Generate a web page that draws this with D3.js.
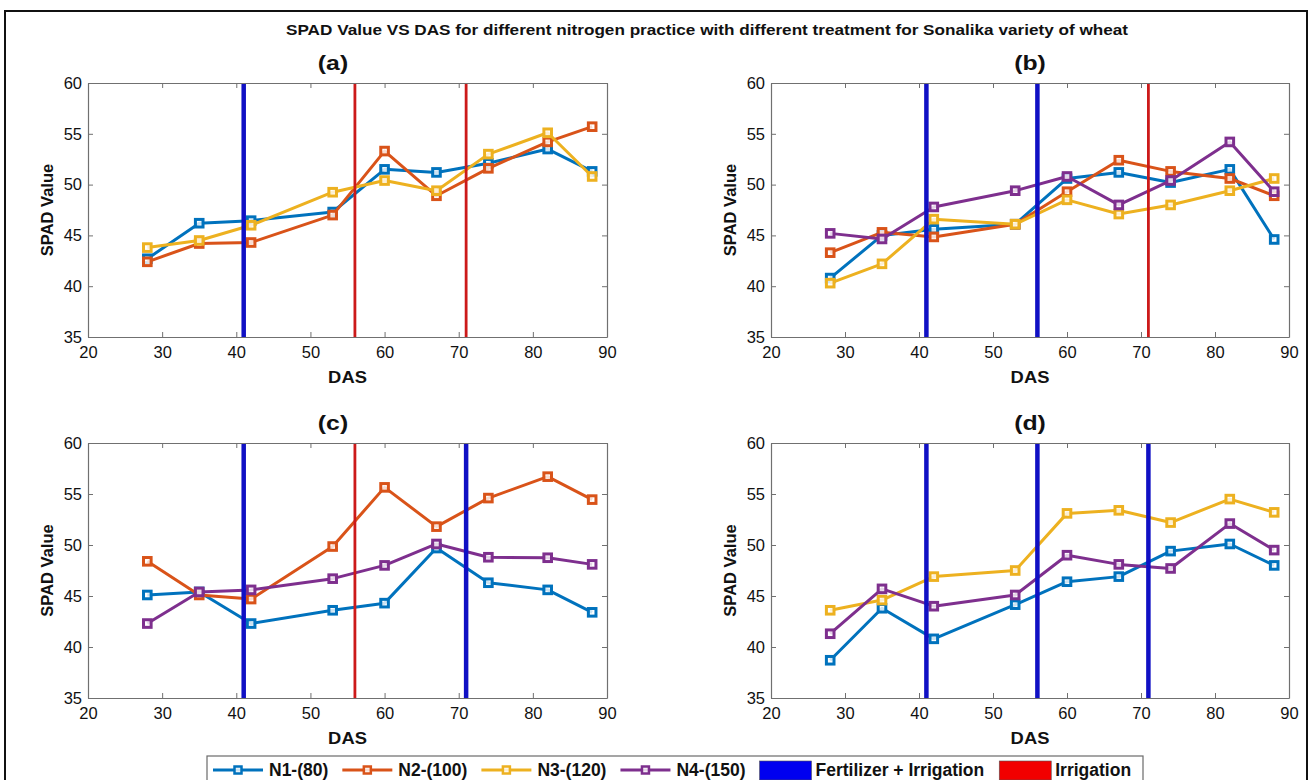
<!DOCTYPE html>
<html>
<head>
<meta charset="utf-8">
<script src="https://cdn.jsdelivr.net/npm/d3@7"></script>
<style>
  html, body { margin: 0; padding: 0; background: #fff; }
  svg { display: block; font-family: "Liberation Sans", Arial, Helvetica, sans-serif; }
</style>
</head>
<body>
<svg id="chart" width="1314" height="780"></svg>
<script>
// ---------------- DATA ----------------
const das = [28, 35, 42, 53, 60, 67, 74, 82, 88];

const seriesNames = ["N1-(80)", "N2-(100)", "N3-(120)", "N4-(150)"];
const seriesColors = ["#0072BD", "#D95319", "#EDB120", "#7E2F8E"];

// Panel (a)
const a_N1 = [42.7, 46.2, 46.45, 47.3, 51.5, 51.2, 52.1, 53.5, 51.3];
const a_N2 = [42.4, 44.2, 44.3, 47.0, 53.3, 48.9, 51.6, 54.2, 55.7];
const a_N3 = [43.8, 44.5, 46.0, 49.25, 50.4, 49.4, 53.0, 55.1, 50.8];
// Panel (b)
const b_N1 = [40.8, 45.0, 45.6, 46.1, 50.6, 51.2, 50.2, 51.5, 44.6];
const b_N2 = [43.3, 45.3, 44.85, 46.1, 49.3, 52.4, 51.3, 50.6, 48.9];
const b_N3 = [40.3, 42.2, 46.6, 46.1, 48.5, 47.1, 48.0, 49.4, 50.6];
const b_N4 = [45.2, 44.65, 47.8, 49.4, 50.8, 48.0, 50.4, 54.2, 49.3];
// Panel (c)
const c_N1 = [45.1, 45.4, 42.3, 43.6, 44.3, 49.7, 46.3, 45.6, 43.4];
const c_N2 = [48.4, 45.1, 44.7, 49.85, 55.65, 51.8, 54.6, 56.7, 54.45];
const c_N4 = [42.3, 45.4, 45.6, 46.7, 48.0, 50.1, 48.8, 48.75, 48.1];
// Panel (d)
const d_N1 = [38.7, 43.8, 40.8, 44.15, 46.4, 46.9, 49.4, 50.1, 48.0];
const d_N3 = [43.6, 44.6, 46.9, 47.5, 53.1, 53.4, 52.2, 54.5, 53.2];
const d_N4 = [41.3, 45.7, 44.0, 45.1, 49.0, 48.1, 47.7, 52.1, 49.5];

// Event lines (DAS)
const a_fert = [41], a_irr = [56, 71];
const b_fert = [41, 56], b_irr = [71];
const c_fert = [41, 71], c_irr = [56];
const d_fert = [41, 56, 71], d_irr = [];

const xTicks = [20, 30, 40, 50, 60, 70, 80, 90];
const yTicks = [35, 40, 45, 50, 55, 60];
const xDomain = [20, 90];
const yDomain = [35, 60];

const panelLabels = ["(a)", "(b)", "(c)", "(d)"];
const titleText = "SPAD Value VS DAS for different nitrogen practice with different treatment for Sonalika variety of wheat";
const legendEvents = ["Fertilizer + Irrigation", "Irrigation"];

// ---------------- LAYOUT ----------------
const fertColor = "#1010c4", irrColor = "#cc1a1a";
const fertLegend = "#0000f0", irrLegend = "#f20000";

const panels = [
  { label: panelLabels[0], box: [88, 607, 83, 337], titleX: 333, series: [[0, a_N1], [1, a_N2], [2, a_N3]], fert: a_fert, irr: a_irr },
  { label: panelLabels[1], box: [771, 1289, 83, 337], titleX: 1030, series: [[0, b_N1], [1, b_N2], [2, b_N3], [3, b_N4]], fert: b_fert, irr: b_irr },
  { label: panelLabels[2], box: [88, 607, 443, 698], titleX: 333, series: [[0, c_N1], [1, c_N2], [3, c_N4]], fert: c_fert, irr: c_irr },
  { label: panelLabels[3], box: [771, 1289, 443, 698], titleX: 1030, series: [[0, d_N1], [2, d_N3], [3, d_N4]], fert: d_fert, irr: d_irr }
];

const svg = d3.select("#chart");
svg.append("rect").attr("width", 1314).attr("height", 780).attr("fill", "#fff");
// outer figure border
svg.append("rect").attr("x", 5).attr("y", 11).attr("width", 1302).attr("height", 790)
  .attr("fill", "none").attr("stroke", "#111").attr("stroke-width", 2);

svg.append("text").attr("x", 707).attr("y", 35).attr("text-anchor", "middle")
  .attr("font-size", 14.5).attr("font-weight", "bold").attr("fill", "#111")
  .attr("textLength", 842).attr("lengthAdjust", "spacingAndGlyphs").text(titleText);

const axisColor = "#707070";

panels.forEach(p => {
  const [x0, x1, y0, y1] = p.box;
  const x = d3.scaleLinear().domain(xDomain).range([x0, x1]);
  const y = d3.scaleLinear().domain(yDomain).range([y1, y0]);
  const g = svg.append("g");

  // panel label
  g.append("text").attr("transform", `translate(${p.titleX},${y0 - 13}) scale(1.18,1)`)
    .attr("text-anchor", "middle")
    .attr("font-size", 21).attr("font-weight", "bold").attr("fill", "#111").text(p.label);

  // series lines
  const line = d3.line().x((d, i) => x(das[i])).y(d => y(d));
  p.series.forEach(([si, vals]) => {
    const col = seriesColors[si];
    g.append("path").datum(vals).attr("d", line).attr("fill", "none")
      .attr("stroke", col).attr("stroke-width", 3).attr("stroke-linejoin", "round");
    g.selectAll(null).data(vals).enter().append("rect")
      .attr("x", (d, i) => x(das[i]) - 3.8).attr("y", d => y(d) - 3.8)
      .attr("width", 7.6).attr("height", 7.6)
      .attr("fill", "#fff").attr("fill-opacity", 0.8)
      .attr("stroke", col).attr("stroke-width", 3);
  });

  // event lines
  p.fert.forEach(v => {
    g.append("line").attr("x1", x(v)).attr("x2", x(v)).attr("y1", y0).attr("y2", y1)
      .attr("stroke", fertColor).attr("stroke-width", 4.5);
  });
  p.irr.forEach(v => {
    g.append("line").attr("x1", x(v)).attr("x2", x(v)).attr("y1", y0).attr("y2", y1)
      .attr("stroke", irrColor).attr("stroke-width", 2.8);
  });

  // axes
  const styleAxis = sel => {
    sel.selectAll("path.domain").attr("stroke", axisColor).attr("stroke-width", 1.2);
    sel.selectAll(".tick line").attr("stroke", axisColor).attr("stroke-width", 1);
    sel.selectAll(".tick text").attr("font-size", 16.5).attr("fill", "#111")
      .attr("font-family", "'Liberation Sans', Arial, sans-serif");
  };
  const gx = g.append("g").attr("transform", `translate(0,${y1})`)
    .call(d3.axisBottom(x).tickValues(xTicks).tickSize(-5).tickSizeOuter(0).tickPadding(9).tickFormat(d3.format("d")));
  styleAxis(gx);
  const gxt = g.append("g").attr("transform", `translate(0,${y0})`)
    .call(d3.axisTop(x).tickValues(xTicks).tickSize(-5).tickSizeOuter(0).tickFormat(""));
  styleAxis(gxt);
  const gy = g.append("g").attr("transform", `translate(${x0},0)`)
    .call(d3.axisLeft(y).tickValues(yTicks).tickSize(-5).tickSizeOuter(0).tickPadding(6).tickFormat(d3.format("d")));
  styleAxis(gy);
  const gyr = g.append("g").attr("transform", `translate(${x1},0)`)
    .call(d3.axisRight(y).tickValues(yTicks).tickSize(-5).tickSizeOuter(0).tickFormat(""));
  styleAxis(gyr);

  // axis labels
  g.append("text").attr("transform", `translate(${(x0 + x1) / 2},${y1 + 46}) scale(1.08,1)`)
    .attr("text-anchor", "middle")
    .attr("font-size", 17).attr("font-weight", "bold").attr("fill", "#111").text("DAS");
  g.append("text").attr("transform", `translate(${x0 - 35},${(y0 + y1) / 2}) rotate(-90)`)
    .attr("text-anchor", "middle").attr("font-size", 16.5).attr("font-weight", "bold")
    .attr("fill", "#111").text("SPAD Value");
});

// ---------------- LEGEND ----------------
const lg = svg.append("g");
lg.append("rect").attr("x", 207).attr("y", 756).attr("width", 936).attr("height", 40)
  .attr("fill", "#fff").attr("stroke", "#6a6a6a").attr("stroke-width", 1.2);
let cx = 213;
const ty = 776;
seriesNames.forEach((name, i) => {
  const col = seriesColors[i];
  lg.append("line").attr("x1", cx).attr("x2", cx + 50).attr("y1", 770).attr("y2", 770)
    .attr("stroke", col).attr("stroke-width", 3);
  lg.append("rect").attr("x", cx + 25 - 3.5).attr("y", 766.5).attr("width", 7).attr("height", 7)
    .attr("fill", "#fff").attr("fill-opacity", 0.8).attr("stroke", col).attr("stroke-width", 2.5);
  const t = lg.append("text").attr("x", cx + 56).attr("y", ty).attr("font-size", 17.5)
    .attr("font-weight", "bold").attr("fill", "#111").text(name);
  cx = cx + 56 + t.node().getComputedTextLength() + 14;
});
[[legendEvents[0], fertLegend], [legendEvents[1], irrLegend]].forEach(([name, col]) => {
  lg.append("rect").attr("x", cx).attr("y", 761).attr("width", 52).attr("height", 19)
    .attr("fill", col).attr("stroke", "#555").attr("stroke-width", 0.6);
  const t = lg.append("text").attr("x", cx + 56).attr("y", ty).attr("font-size", 17.5)
    .attr("font-weight", "bold").attr("fill", "#111").text(name);
  cx = cx + 56 + t.node().getComputedTextLength() + 15;
});
</script>
</body>
</html>
